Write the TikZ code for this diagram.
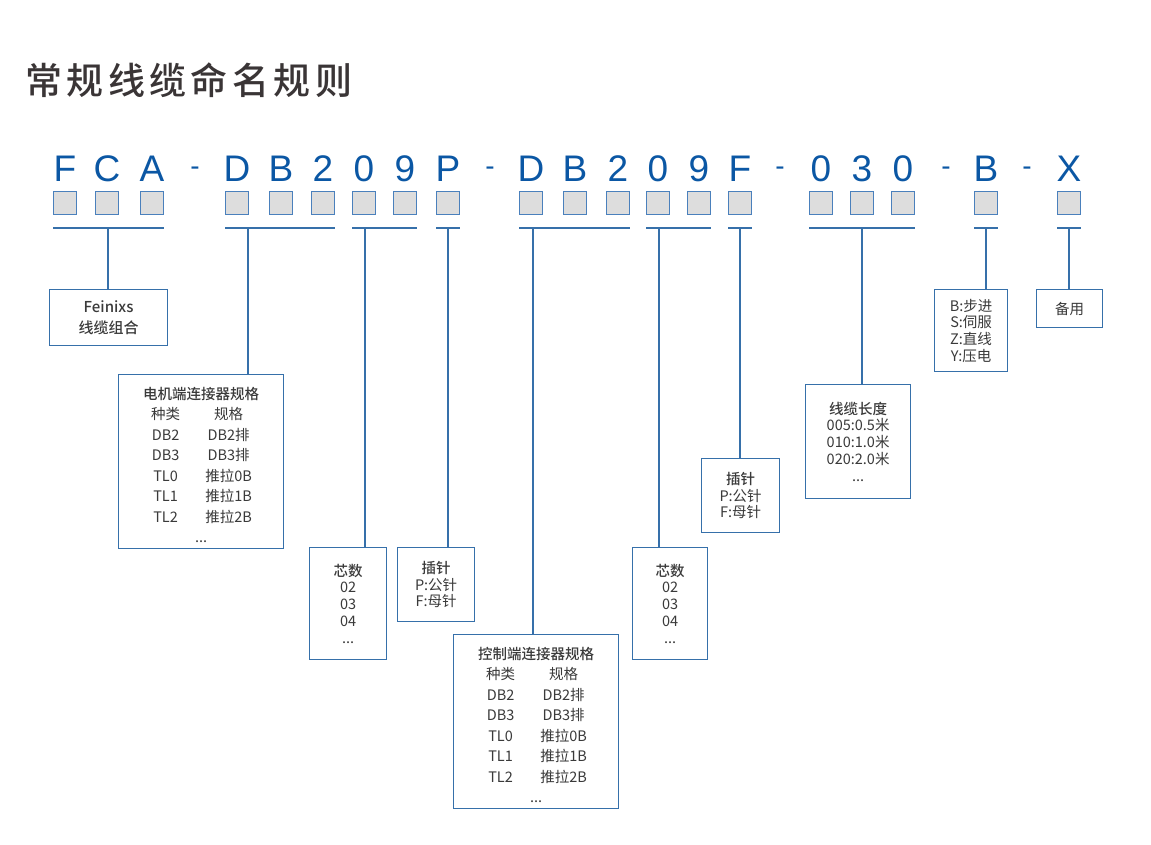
\documentclass[tikz,border=0pt]{standalone}
\usepackage{fontspec}
\usepackage{xcolor}
\newfontfamily\cjk{Noto Sans CJK SC}
\newfontfamily\cjkmed{Noto Sans CJK SC Medium}
\newfontfamily\cjktitle[LetterSpace=12]{Noto Sans CJK SC Medium}
\newfontfamily\codefont{Liberation Sans}
\definecolor{codeblue}{HTML}{0B57A4}
\definecolor{linkblue}{HTML}{3670AA}
\definecolor{sqgray}{HTML}{DDDDDD}
\definecolor{sqedge}{HTML}{4A80BC}
\definecolor{txtgray}{HTML}{3A3A3A}
\definecolor{headgray}{HTML}{3A3536}
\newcommand{\specrow}[2]{\makebox[63pt]{#1}\makebox[63pt]{#2}\makebox[8pt]{}}

\begin{document}
\begin{tikzpicture}[
  x=1pt, y=-1pt,
  heading/.style={font=\cjktitle\fontsize{37}{37}\selectfont, text=headgray,
              anchor=west, inner sep=0pt},
  code/.style={font=\codefont\fontsize{37}{37}\selectfont, text=codeblue,
              anchor=base, inner sep=0pt},
  sepdash/.style={code, font=\codefont\fontsize{28}{28}\selectfont},
  sq/.style={draw=sqedge, fill=sqgray, line width=1pt, minimum size=23pt, inner sep=0pt},
  link/.style={draw=linkblue, line width=1.1pt},
  infobox/.style={draw=linkblue, line width=1.2pt, fill=white, align=center,
              anchor=north west, inner sep=0pt, text=txtgray,
              font=\cjk\fontsize{14.5}{16.7}\selectfont},
  specbox/.style={infobox, font=\cjk\fontsize{14.5}{20.5}\selectfont}
]
  \fill[white] (0,0) rectangle (1151,844);
  \useasboundingbox (0,0) rectangle (1151,844);

  \node[heading] (title) at (25,80) {常规线缆命名规则};

  % code letters and their squares
  \foreach \x/\c [count=\i] in {65/F,107/C,152/A,237/D,281/B,323/2,364/0,405/9,448/P,
      531/D,575/B,618/2,658/0,699/9,740/F,821/0,862/3,903/0,986/B,1069/X}{
    \node[code] (c\i) at (\x,181) {\c};
    \node[sq] (s\i) at (\x,203) {};
  }
  \foreach \x [count=\i] in {195,490,780,946,1027}
    \node[sepdash] (d\i) at (\x,175) {-};

  % boxes
  \node[infobox, minimum width=118pt, minimum height=56pt,
        font=\cjkmed\fontsize{15}{21}\selectfont] (maker) at (49,289)
        {Feinixs\\线缆组合};
  \node[specbox, minimum width=165pt, minimum height=174pt] (motorend) at (118,374)
        {{\cjkmed 电机端连接器规格}\rule{0pt}{19pt}\\ \specrow{种类}{规格}\\ \specrow{DB2}{DB2排}\\
         \specrow{DB3}{DB3排}\\ \specrow{TL0}{推拉0B}\\ \specrow{TL1}{推拉1B}\\
         \specrow{TL2}{推拉2B}\\ ...};
  \node[infobox, minimum width=77pt, minimum height=112pt] (coresA) at (309,547)
        {{\cjkmed 芯数}\\02\\03\\04\\...};
  \node[infobox, minimum width=77pt, minimum height=74pt] (pinA) at (397,547)
        {{\cjkmed 插针}\\P:公针\\F:母针};
  \node[specbox, minimum width=165pt, minimum height=174pt] (ctrlend) at (453,634)
        {{\cjkmed 控制端连接器规格}\rule{0pt}{19pt}\\ \specrow{种类}{规格}\\ \specrow{DB2}{DB2排}\\
         \specrow{DB3}{DB3排}\\ \specrow{TL0}{推拉0B}\\ \specrow{TL1}{推拉1B}\\
         \specrow{TL2}{推拉2B}\\ ...};
  \node[infobox, minimum width=75pt, minimum height=112pt] (coresB) at (632,547)
        {{\cjkmed 芯数}\\02\\03\\04\\...};
  \node[infobox, minimum width=78pt, minimum height=74pt] (pinB) at (701,458)
        {{\cjkmed 插针}\\P:公针\\F:母针};
  \node[infobox, minimum width=105pt, minimum height=114pt] (length) at (805,384)
        {{\cjkmed 线缆长度}\\005:0.5米\\010:1.0米\\020:2.0米\\...};
  \node[infobox, minimum width=73pt, minimum height=82pt] (drive) at (934,289)
        {B:步进\\S:伺服\\Z:直线\\Y:压电};
  \node[infobox, minimum width=66pt, minimum height=38pt] (spare) at (1036,289)
        {备用};

  % brackets
  \coordinate (j1) at (108,228);
  \coordinate (j2) at (248,228);
  \coordinate (j3) at (365,228);
  \coordinate (j4) at (448,228);
  \coordinate (j5) at (533,228);
  \coordinate (j6) at (659,228);
  \coordinate (j7) at (740,228);
  \coordinate (j8) at (862,228);
  \coordinate (j9) at (986,228);
  \coordinate (j10) at (1069,228);

  \draw[link] (s1.west |- j1) -- (s3.east |- j1);
  \draw[link] (s4.west |- j2) -- (s6.east |- j2);
  \draw[link] (s7.west |- j3) -- (s8.east |- j3);
  \draw[link] (s9.west |- j4) -- (s9.east |- j4);
  \draw[link] (s10.west |- j5) -- (s12.east |- j5);
  \draw[link] (s13.west |- j6) -- (s14.east |- j6);
  \draw[link] (s15.west |- j7) -- (s15.east |- j7);
  \draw[link] (s16.west |- j8) -- (s18.east |- j8);
  \draw[link] (s19.west |- j9) -- (s19.east |- j9);
  \draw[link] (s20.west |- j10) -- (s20.east |- j10);

  \draw[link] (j1) -- (j1 |- maker.north);
  \draw[link] (j2) -- (j2 |- motorend.north);
  \draw[link] (j3) -- (j3 |- coresA.north);
  \draw[link] (j4) -- (j4 |- pinA.north);
  \draw[link] (j5) -- (j5 |- ctrlend.north);
  \draw[link] (j6) -- (j6 |- coresB.north);
  \draw[link] (j7) -- (j7 |- pinB.north);
  \draw[link] (j8) -- (j8 |- length.north);
  \draw[link] (j9) -- (j9 |- drive.north);
  \draw[link] (j10) -- (j10 |- spare.north);
\end{tikzpicture}
\end{document}
